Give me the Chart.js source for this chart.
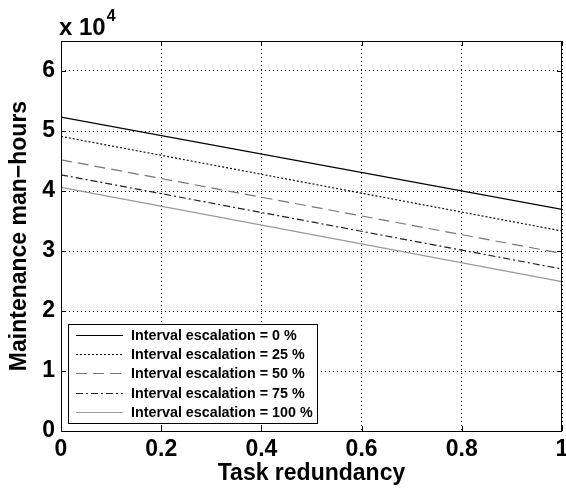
<!DOCTYPE html>
<html>
<head>
<meta charset="utf-8">
<script src="https://cdn.jsdelivr.net/npm/chart.js@4.4.1/dist/chart.umd.min.js"></script>
<style>
  html, body { margin: 0; padding: 0; background: #fff; }
  #wrap { width: 566px; height: 489px; }
</style>
</head>
<body>
<div id="wrap"><canvas id="chart" width="566" height="489"></canvas></div>
<script>
const redundancy = [0, 1];
const esc0 = [52300, 36950];
const esc25 = [49100, 33330];
const esc50 = [45200, 29600];
const esc75 = [42700, 27000];
const esc100 = [40600, 24900];
const seriesLabels = ['Interval escalation = 0 %', 'Interval escalation = 25 %', 'Interval escalation = 50 %', 'Interval escalation = 75 %', 'Interval escalation = 100 %'];
const xTicks = [0, 0.2, 0.4, 0.6, 0.8, 1];
const yTicks = [0, 1, 2, 3, 4, 5, 6];

const FONT = 'Liberation Sans, Arial, sans-serif';

function pts(ys) {
  return redundancy.map((x, i) => ({ x: x, y: ys[i] }));
}

// matlab style box, inward ticks, exponent and legend
const matlabBox = {
  id: 'matlabBox',
  afterDraw(chart) {
    const ctx = chart.ctx;
    const a = chart.chartArea;
    const xs = chart.scales.x, ys = chart.scales.y;
    ctx.save();
    ctx.strokeStyle = '#000';
    ctx.lineWidth = 1;
    ctx.setLineDash([]);
    ctx.beginPath();
    xTicks.forEach(t => {
      const px = Math.round(xs.getPixelForValue(t)) + 0.5;
      ctx.moveTo(px, a.bottom); ctx.lineTo(px, a.bottom - 5);
      ctx.moveTo(px, a.top); ctx.lineTo(px, a.top + 5);
    });
    yTicks.forEach(t => {
      const py = Math.round(ys.getPixelForValue(t * 10000)) + 0.5;
      ctx.moveTo(a.left, py); ctx.lineTo(a.left + 5, py);
      ctx.moveTo(a.right, py); ctx.lineTo(a.right - 5, py);
    });
    ctx.stroke();
    ctx.strokeRect(Math.round(a.left) + 0.5, Math.round(a.top) + 0.5, Math.round(a.right - a.left) - 1, Math.round(a.bottom - a.top));

    // exponent label
    ctx.fillStyle = '#000';
    ctx.textBaseline = 'alphabetic';
    ctx.textAlign = 'left';
    ctx.font = 'bold 24px ' + FONT;
    ctx.fillText('x 10', 59, 35);
    const w = ctx.measureText('x 10').width;
    ctx.font = 'bold 16px ' + FONT;
    ctx.fillText('4', 59 + w + 1, 21);

    // legend
    const lx = 68, ly = 324, lw = 249, lh = 99;
    ctx.fillStyle = '#fff';
    ctx.fillRect(lx, ly, lw, lh);
    ctx.strokeStyle = '#000';
    ctx.strokeRect(lx + 0.5, ly + 0.5, lw, lh);
    ctx.font = 'bold 14.3px ' + FONT;
    ctx.textBaseline = 'middle';
    chart.data.datasets.forEach((ds, i) => {
      const y = Math.round(ly + 11 + i * 19.2) + 0.5;
      ctx.strokeStyle = ds.borderColor;
      ctx.setLineDash(ds.borderDash || []);
      ctx.beginPath();
      ctx.moveTo(76, y); ctx.lineTo(123, y);
      ctx.stroke();
      ctx.setLineDash([]);
      ctx.fillStyle = '#000';
      ctx.fillText(ds.label, 131, y + 1);
    });
    ctx.restore();
  }
};

new Chart(document.getElementById('chart'), {
  type: 'line',
  data: {
    datasets: [
      { label: seriesLabels[0], data: pts(esc0), borderColor: '#000', borderDash: [] },
      { label: seriesLabels[1], data: pts(esc25), borderColor: '#111', borderDash: [2, 2] },
      { label: seriesLabels[2], data: pts(esc50), borderColor: '#777', borderDash: [11, 6] },
      { label: seriesLabels[3], data: pts(esc75), borderColor: '#222', borderDash: [7, 3, 2, 3] },
      { label: seriesLabels[4], data: pts(esc100), borderColor: '#999', borderDash: [] }
    ]
  },
  options: {
    responsive: false,
    animation: false,
    layout: { padding: { top: 41, right: 4, left: 0, bottom: 0 } },
    elements: {
      point: { radius: 0 },
      line: { borderWidth: 1.2, tension: 0 }
    },
    plugins: {
      legend: { display: false },
      tooltip: { enabled: false }
    },
    scales: {
      x: {
        type: 'linear',
        min: 0,
        max: 1,
        afterBuildTicks: (s) => { s.ticks = xTicks.map(v => ({ value: v })); },
        afterFit: (s) => { s.height = 58; s.paddingLeft = 0; s.paddingRight = 0; },
        ticks: {
          color: '#000',
          font: { family: FONT, size: 23, weight: 'bold' },
          padding: 5,
          maxRotation: 0,
          callback: (v) => String(v)
        },
        grid: { color: '#000', lineWidth: 1, drawTicks: false },
        border: { display: false, dash: [1, 3] },
        title: {
          display: true,
          text: 'Task redundancy',
          color: '#000',
          font: { family: FONT, size: 23, weight: 'bold' },
          padding: { top: 0, bottom: 2 }
        }
      },
      y: {
        min: 0,
        max: 65000,
        afterBuildTicks: (s) => { s.ticks = yTicks.map(v => ({ value: v * 10000 })); },
        afterFit: (s) => { s.width = 61; s.paddingTop = 0; s.paddingBottom = 0; },
        ticks: {
          color: '#000',
          font: { family: FONT, size: 23, weight: 'bold' },
          padding: 6,
          callback: (v) => String(v / 10000)
        },
        grid: { color: '#000', lineWidth: 1, drawTicks: false },
        border: { display: false, dash: [1, 3] },
        title: {
          display: true,
          text: 'Maintenance man\u2212hours',
          color: '#000',
          font: { family: FONT, size: 23, weight: 'bold' },
          padding: { top: 6, bottom: 0 }
        }
      }
    }
  },
  plugins: [matlabBox]
});
</script>
</body>
</html>
